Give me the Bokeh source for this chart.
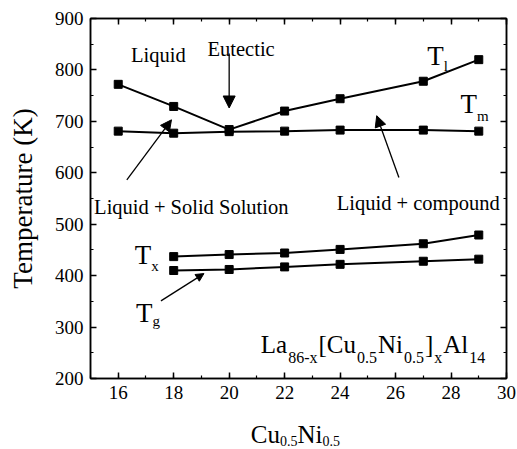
from bokeh.plotting import figure
from bokeh.layouts import column
from bokeh.models import (Label, LinearAxis, SingleIntervalTicker, Range1d,
                          Arrow, NormalHead, CustomJSTickFormatter)
from bokeh.core.properties import value
from bokeh.embed import file_html
from bokeh.resources import INLINE

# Cu0.5Ni0.5 content (at.%) and characteristic temperatures (K)
x_melt = [16, 18, 20, 22, 24, 27, 29]
T_liquidus = [772, 729, 684, 720, 744, 778, 820]
T_solidus = [681, 677, 680, 681, 683, 683, 681]

x_glass = [18, 20, 22, 24, 27, 29]
T_cryst = [437, 441, 444, 451, 462, 479]
T_glass = [410, 412, 417, 422, 428, 432]

x_ticks_interval = 2
y_ticks_interval = 100

FONT = "Liberation Serif"

# Times-like advance widths (per 1000 em) used to chain sub-scripted pieces
ADV = {'L': 611, 'a': 444, '8': 500, '6': 500, '-': 333, 'x': 500, '[': 333,
       'C': 667, 'u': 500, '0': 500, '.': 250, '5': 500, 'N': 722, 'i': 278,
       ']': 333, 'A': 722, 'l': 278, '1': 500, '4': 500, 'T': 611, 'm': 778,
       'g': 500}


def text_width(s, size):
    return sum(ADV.get(c, 500) for c in s) * size / 1000.0


def rich_label(p, x, y, parts, size, sub_size, drop, gap=0.0):
    """Chain of Label annotations; pieces flagged True are subscripts."""
    off = 0.0
    for txt, sub in parts:
        fs = sub_size if sub else size
        p.add_layout(Label(x=x, y=y, x_offset=off, y_offset=-drop if sub else 0,
                           text=txt, text_font=FONT, text_font_size=f"{fs}px",
                           text_baseline="alphabetic", text_align="left",
                           text_color="black"))
        off += text_width(txt, fs) + gap


p = figure(width=517, height=408, output_backend="svg", toolbar_location=None,
           x_range=Range1d(15, 30), y_range=Range1d(200, 900),
           min_border_left=90, min_border_right=11, min_border_top=18,
           min_border_bottom=30, x_axis_type=None, y_axis_type=None)
p.xgrid.visible = False
p.ygrid.visible = False
p.outline_line_color = "black"
p.outline_line_width = 1.5
p.background_fill_color = "white"
p.border_fill_color = "white"


def style_axis(ax, show_labels):
    ax.axis_line_width = 1.5
    ax.major_tick_line_width = 1.5
    ax.minor_tick_line_width = 1.2
    ax.major_tick_in = 6
    ax.major_tick_out = 0
    ax.minor_tick_in = 3
    ax.minor_tick_out = 0
    ax.major_label_text_font = FONT
    ax.major_label_text_font_size = "19px"
    ax.major_label_text_color = "black"
    ax.major_label_standoff = 7
    if not show_labels:
        ax.formatter = CustomJSTickFormatter(code="return ''")


xt = lambda: SingleIntervalTicker(interval=x_ticks_interval, num_minor_ticks=2)
yt = lambda: SingleIntervalTicker(interval=y_ticks_interval, num_minor_ticks=2)

bottom = LinearAxis(ticker=xt())
top = LinearAxis(ticker=xt())
left = LinearAxis(ticker=yt(), axis_label="Temperature (K)")
right = LinearAxis(ticker=yt())
style_axis(bottom, True)
style_axis(top, False)
style_axis(left, True)
style_axis(right, False)
left.axis_label_text_font = FONT
left.axis_label_text_font_style = "normal"
left.axis_label_text_font_size = "27px"
left.axis_label_text_color = "black"
left.axis_label_standoff = 14
p.add_layout(bottom, "below")
p.add_layout(top, "above")
p.add_layout(left, "left")
p.add_layout(right, "right")

# curves
for xs, ys in [(x_melt, T_liquidus), (x_melt, T_solidus),
               (x_glass, T_cryst), (x_glass, T_glass)]:
    p.line(xs, ys, line_color="black", line_width=2)
    p.scatter(xs, ys, marker="square", size=8, fill_color="black",
              line_color="black")

# region annotations
for txt, tx, ty in [("Liquid", 16.46, 829), ("Eutectic", 19.22, 840),
                    ("Liquid + Solid Solution", 15.13, 533),
                    ("Liquid + compound", 23.88, 541)]:
    p.add_layout(Label(x=tx, y=ty, text=txt, text_font=FONT,
                       text_font_size="20.5px", text_baseline="alphabetic",
                       text_align="left", text_color="black"))

# arrows
for (x0, y0, x1, y1, hs) in [(20.0, 832, 20.0, 726, 12),
                             (16.31, 586, 17.92, 703, 11),
                             (26.12, 591, 25.32, 711, 11),
                             (17.54, 351, 19.09, 404, 8)]:
    p.add_layout(Arrow(end=NormalHead(size=hs, fill_color="black",
                                      line_color="black", line_width=1),
                       x_start=x0, y_start=y0, x_end=x1, y_end=y1,
                       line_width=1.3, line_color="black"))

# curve names with subscripts
rich_label(p, 27.14, 828, [("T", False), ("l", True)], 27, 15, 10)
rich_label(p, 28.34, 734, [("T", False), ("m", True)], 27, 15, 12)
rich_label(p, 16.60, 440, [("T", False), ("x", True)], 27, 15, 11)
rich_label(p, 16.64, 328, [("T", False), ("g", True)], 27, 15, 8)

# alloy formula
rich_label(p, 21.14, 265.6,
           [("La", False), ("86-x", True), ("[Cu", False), ("0.5", True),
            ("Ni", False), ("0.5", True), ("]", False), ("x", True),
            ("Al", False), ("14", True)], 25, 16, 13, gap=1.0)

# strip below the plot carrying the x axis title (one unit = one pixel in y)
q = figure(width=517, height=41, output_backend="svg", toolbar_location=None,
           x_range=p.x_range, y_range=Range1d(0, 41),
           min_border_left=90, min_border_right=11, min_border_top=0,
           min_border_bottom=0, x_axis_type=None, y_axis_type=None)
q.xgrid.visible = False
q.ygrid.visible = False
q.outline_line_color = None
q.background_fill_color = "white"
q.border_fill_color = "white"

title_parts = [("Cu", False), ("0.5", True), ("Ni", False), ("0.5", True)]
title_x = 20.78
off = 0.0
for txt, sub in title_parts:
    fs = 14 if sub else 25
    q.text(x=[title_x], y=[9 if sub else 15], text=[txt], x_offset=off,
           text_font=value(FONT), text_font_size=f"{fs}px",
           text_baseline="alphabetic", text_align="left", text_color="black")
    off += text_width(txt, fs)

layout = column(p, q, spacing=0)
open("out.html", "w").write(file_html(layout, INLINE))
